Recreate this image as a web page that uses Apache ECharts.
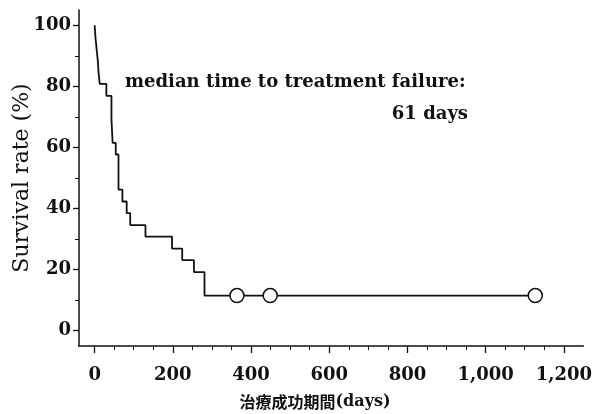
<!DOCTYPE html>
<html>
<head>
<meta charset="utf-8">
<script src="https://cdn.jsdelivr.net/npm/echarts@6/dist/echarts.min.js"></script>
<style>
html,body{margin:0;padding:0;background:#fff;}
#chart{width:595px;height:414px;}
</style>
</head>
<body>
<div id="chart"></div>
<script>
// Kaplan-Meier 曲線（治療成功期間）
var eventDays = [0, 2, 5, 8, 10, 13, 30, 43, 46, 54, 61, 71, 82, 91, 130, 198, 224, 254, 281, 1127];
var survival = [100, 96.2, 92.3, 88.5, 84.6, 80.8, 76.9, 69.2, 61.5, 57.7, 46.2, 42.3, 38.5, 34.6, 30.8, 26.9, 23.1, 19.2, 11.5, 11.5];
var censorDays = [364, 449, 1127];
var censorRate = [11.5, 11.5, 11.5];
var xTicks = [0, 200, 400, 600, 800, 1000, 1200];
var xMinorTicks = [50, 100, 150, 250, 300, 350, 450, 500, 550, 650, 700, 750, 850, 900, 950, 1050, 1100, 1150];
var yTicks = [0, 20, 40, 60, 80, 100];
var yMinorTicks = [10, 30, 50, 70, 90];

var serif = 'DejaVu Serif';
var black = '#111';

function pairs(xs, ys){
	var res = [];
	for(var i=0;i<xs.length;i++) res.push([xs[i], ys[i]]);
	return res;
}
function comma(v){
	return String(v).replace(/\B(?=(\d{3})+(?!\d))/g, ',');
}

var mychart = echarts.init(document.getElementById('chart'), null, {renderer:'canvas'});
var xbase = {type:'value', min:-40, max:1250, splitLine:{show:false}, position:'bottom', offset:0};
var ybase = {type:'value', min:-5, max:105, splitLine:{show:false}, position:'left', offset:0};

var option = {
	backgroundColor: '#fff',
	animation: false,
	grid: {left:79, right:8, top:10, bottom:68, containLabel:false},
	xAxis: [
		Object.assign({}, xbase, {
			axisLine:{show:true, onZero:false, lineStyle:{color:black, width:1.5}},
			axisTick:{show:true, customValues:xTicks, length:7, lineStyle:{color:black, width:1.3}},
			axisLabel:{show:true, customValues:xTicks, margin:20, color:black,
				fontFamily:serif, fontWeight:'bold', fontSize:18, formatter:comma}
		}),
		Object.assign({}, xbase, {
			axisLine:{show:false, onZero:false},
			axisTick:{show:true, customValues:xMinorTicks, length:4, lineStyle:{color:black, width:1}},
			axisLabel:{show:false}
		})
	],
	yAxis: [
		Object.assign({}, ybase, {
			axisLine:{show:true, onZero:false, lineStyle:{color:black, width:1.5}},
			axisTick:{show:true, customValues:yTicks, length:6, lineStyle:{color:black, width:1.3}},
			axisLabel:{show:true, customValues:yTicks, margin:8, color:black,
				fontFamily:serif, fontWeight:'bold', fontSize:18}
		}),
		Object.assign({}, ybase, {
			axisLine:{show:false, onZero:false},
			axisTick:{show:true, customValues:yMinorTicks, length:4, lineStyle:{color:black, width:1}},
			axisLabel:{show:false}
		})
	],
	series: [
		{
			type:'line', step:'end', xAxisIndex:0, yAxisIndex:0,
			data: pairs(eventDays, survival),
			symbol:'none',
			lineStyle:{color:black, width:1.8}
		},
		{
			type:'scatter', xAxisIndex:0, yAxisIndex:0,
			data: pairs(censorDays, censorRate),
			symbol:'circle', symbolSize:14, z:5,
			itemStyle:{color:'#fff', borderColor:black, borderWidth:1.5, opacity:1}
		}
	],
	graphic: [
		{type:'text', left:125, top:73, style:{text:'median time to treatment failure:', fill:black,
			font:'bold 18px "DejaVu Serif"'}},
		{type:'text', right:127, top:105, style:{text:'61 days', fill:black,
			font:'bold 18px "DejaVu Serif"'}},
		{type:'text', x:22, y:178, rotation:Math.PI/2, style:{text:'Survival rate (%)', fill:black,
			font:'22px "DejaVu Serif"', align:'center', verticalAlign:'middle'}},
		{type:'text', x:315, y:402, style:{
			text:'{c|治療成功期間}{l|(days)}', align:'center', verticalAlign:'middle',
			rich:{
				c:{fontFamily:'Noto Sans CJK JP', fontWeight:'bold', fontSize:16, fill:black, color:black},
				l:{fontFamily:serif, fontWeight:'bold', fontSize:16, fill:black, color:black}
			}
		}}
	]
};
mychart.setOption(option);
</script>
</body>
</html>
